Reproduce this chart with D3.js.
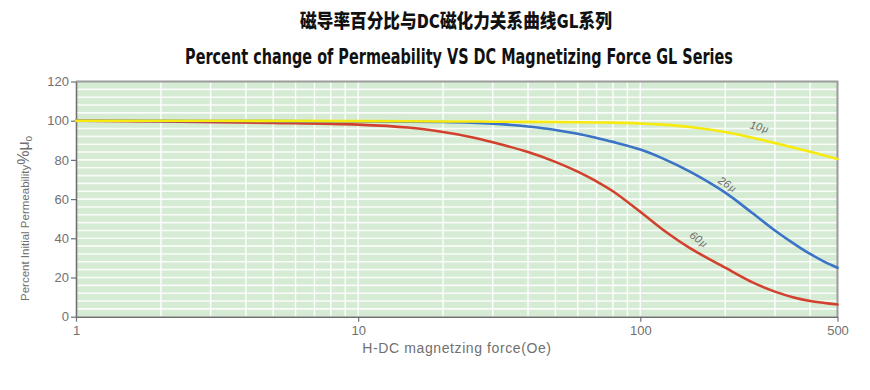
<!DOCTYPE html>
<html>
<head>
<meta charset="utf-8">
<script src="https://cdn.jsdelivr.net/npm/d3@7/dist/d3.min.js"></script>
<style>
  html, body { margin: 0; padding: 0; background: #ffffff; }
  svg { display: block; }
</style>
</head>
<body>
<svg id="chart" width="870" height="390"></svg>
<script>
// ---- data ----
const titleCN = "磁导率百分比与DC磁化力关系曲线GL系列";
const titleEN = "Percent change of Permeability VS DC Magnetizing Force GL Series";
const xLabel = "H-DC magnetzing force(Oe)";
const yLabelMain = "Percent Initial Permeability";

const H      = [1,   2,    5,    10,   15,   20,   25,   30,   40,   50,   60,   70,   80,   100,  120,  150,  200,  250,  300,  350,  400,  450,  500];
const mu10   = [100, 100,  99.9, 99.8, 99.7, 99.6, 99.6, 99.5, 99.4, 99.3, 99.2, 99.1, 99.0, 98.6, 98.0, 96.8, 94.2, 91.3, 88.6, 86.2, 84.1, 82.2, 80.5];
const mu26   = [100, 99.9, 99.8, 99.6, 99.5, 99.3, 99.0, 98.5, 97.0, 95.3, 93.3, 91.2, 89.2, 85.3, 80.8, 74.0, 63.3, 52.8, 44.0, 37.3, 32.0, 28.0, 25.0];
const mu60   = [100, 99.6, 98.9, 98.0, 96.5, 94.2, 91.7, 89.0, 84.0, 79.0, 74.0, 69.0, 64.0, 53.5, 44.5, 35.0, 25.0, 17.5, 12.8, 9.8,  8.0,  7.0,  6.2];

const seriesNames = ["10μ", "26μ", "60μ"];
const labelH      = [262, 200, 158];
const labelVal    = [95.0, 66.0, 38.0];
const labelAngle  = [14, 33, 36];

const yTicks = [0, 20, 40, 60, 80, 100, 120];
const xTicks = [1, 10, 100, 500];
const xTickLabels = ["1", "10", "100", "500"];
const yGridStep = 4;
const xGridVals = [2,3,4,5,6,7,8,9,10,20,30,40,50,60,70,80,90,100,200,300,400];

// ---- layout ----
const svg = d3.select("#chart");
const x = d3.scaleLog().domain([1, 500]).range([76, 837.5]);
const y = d3.scaleLinear().domain([0, 120]).range([316.7, 81.5]);

const [x0, x1] = x.range();
const [yb, yt] = y.range();

// background
svg.append("rect")
  .attr("x", x0).attr("y", yt)
  .attr("width", x1 - x0).attr("height", yb - yt)
  .attr("fill", "#d5ebd4");

// horizontal grid
const hg = d3.range(yGridStep, 120, yGridStep);
svg.append("g").selectAll("line").data(hg).join("line")
  .attr("x1", x0).attr("x2", x1)
  .attr("y1", d => y(d)).attr("y2", d => y(d))
  .attr("stroke", "#ffffff").attr("stroke-opacity", 0.85).attr("stroke-width", 1.6);

// vertical grid
svg.append("g").selectAll("line").data(xGridVals).join("line")
  .attr("x1", d => x(d)).attr("x2", d => x(d))
  .attr("y1", yt).attr("y2", yb)
  .attr("stroke", "#ffffff").attr("stroke-opacity", 0.9).attr("stroke-width", 1.5);

// top & right border
svg.append("path")
  .attr("d", `M${x0},${yt}H${x1}V${yb}`)
  .attr("fill", "none").attr("stroke", "#9c9c9c").attr("stroke-width", 2);

// axes
const axisColor = "#707070";
const gx = svg.append("g").attr("transform", `translate(0,${yb})`)
  .call(d3.axisBottom(x).tickValues(xTicks).tickFormat((d, i) => xTickLabels[i]).tickSize(5).tickSizeOuter(0));
const gy = svg.append("g").attr("transform", `translate(${x0},0)`)
  .call(d3.axisLeft(y).tickValues(yTicks).tickSize(5).tickSizeOuter(0));
[gx, gy].forEach(g => {
  g.select(".domain").attr("stroke", axisColor).attr("stroke-width", 1.6);
  g.selectAll(".tick line").attr("stroke", axisColor).attr("stroke-width", 1.2);
  g.selectAll(".tick text").attr("fill", "#707070")
    .attr("font-family", "Liberation Sans, Arial, sans-serif").attr("font-size", 13);
});
gx.selectAll(".tick text").attr("dy", "0.82em");
gy.selectAll(".tick text").attr("x", -7);

// curves
const line = d3.line().x(d => x(d[0])).y(d => y(d[1])).curve(d3.curveCatmullRom.alpha(0.5));
const series = [
  { vals: mu10, color: "#f7ea0f" },
  { vals: mu26, color: "#3b73c6" },
  { vals: mu60, color: "#d2412e" }
];
[series[2], series[1], series[0]].forEach(s => {
  svg.append("path")
    .datum(H.map((h, i) => [h, s.vals[i]]))
    .attr("d", line)
    .attr("fill", "none")
    .attr("stroke", s.color)
    .attr("stroke-width", 2.6)
    .attr("stroke-linecap", "round");
});

// curve labels
seriesNames.forEach((name, i) => {
  const t = svg.append("text")
    .attr("transform", `translate(${x(labelH[i])},${y(labelVal[i])}) rotate(${labelAngle[i]})`)
    .attr("text-anchor", "middle")
    .attr("font-family", "Liberation Sans, Arial, sans-serif")
    .attr("font-size", 11)
    .attr("font-style", "italic")
    .attr("fill", "#6a6a6a");
  t.append("tspan").text(name.slice(0, 2));
  t.append("tspan").attr("font-size", 10).attr("dx", 1).text(name.slice(2));
});

// titles: condensed by horizontal scaling to the reference widths
function fitTitle(text, cx, baseY, family, weight, size, targetW) {
  const g = svg.append("g");
  const t = g.append("text")
    .attr("x", 0).attr("y", 0)
    .attr("text-anchor", "middle")
    .attr("font-family", family)
    .attr("font-weight", weight).attr("font-size", size)
    .attr("fill", "#111").text(text);
  const w = t.node().getComputedTextLength();
  const s = w > 0 ? targetW / w : 1;
  g.attr("transform", `translate(${cx},${baseY}) scale(${s},1)`);
}
fitTitle(titleCN, 456, 28, "Noto Sans CJK SC, sans-serif", 900, 19, 312);
fitTitle(titleEN, 459, 64, "Liberation Sans Narrow, DejaVu Sans Condensed, Liberation Sans, sans-serif", "bold", 21, 548);

// x axis title
svg.append("text")
  .attr("x", 457).attr("y", 353)
  .attr("text-anchor", "middle")
  .attr("font-family", "Liberation Sans, Arial, sans-serif")
  .attr("font-size", 14).attr("letter-spacing", 0.6).attr("fill", "#707070")
  .text(xLabel);

// y axis title
const yl = svg.append("text")
  .attr("transform", "translate(29,301) rotate(-90)")
  .attr("text-anchor", "start")
  .attr("font-family", "Liberation Sans, Arial, sans-serif")
  .attr("font-size", 11.5).attr("fill", "#707070");
yl.append("tspan").text(yLabelMain);
yl.append("tspan").attr("font-size", 16).text("%");
yl.append("tspan").attr("font-size", 16).text("μ");
yl.append("tspan").attr("font-size", 10).attr("dy", 3).text("o");
</script>
</body>
</html>
